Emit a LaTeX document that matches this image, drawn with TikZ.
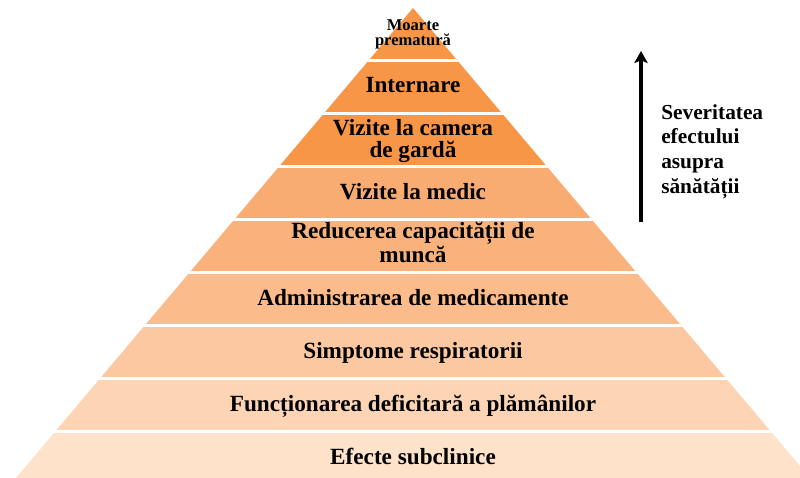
\documentclass[tikz,border=0pt]{standalone}
\usepackage{fontspec}
\setmainfont{Liberation Serif}
\usetikzlibrary{calc,arrows.meta}

\definecolor{lvlA}{HTML}{F79646}
\definecolor{lvlB}{HTML}{F9AC72}
\definecolor{lvlC}{HTML}{FAB27C}
\definecolor{lvlD}{HTML}{FBBB8B}
\definecolor{lvlE}{HTML}{FCC8A2}
\definecolor{lvlF}{HTML}{FDD5B5}
\definecolor{lvlG}{HTML}{FEE3CA}

\tikzset{
  layer/.style={font=\bfseries\fontsize{17.4}{16.5}\selectfont, align=center, anchor=base, inner sep=0pt},
  toplayer/.style={layer, font=\bfseries\fontsize{12.4}{12}\selectfont},
  sidetext/.style={font=\bfseries\fontsize{16}{18.5}\selectfont, align=left, anchor=base west, inner sep=0pt},
  gap/.style={white, line width=2.6pt},
  sevarrow/.style={line width=3pt, -{Stealth[length=9pt,width=10pt,inset=2pt]}}
}

\begin{document}
\begin{tikzpicture}[x=0.75pt,y=-0.75pt]
  \useasboundingbox (0,0) rectangle (800,478);
  \coordinate (apex) at (413,8);
  \coordinate (baseL) at ($(apex) + (-403, 477)$);
  \coordinate (baseR) at ($(apex) + (403, 477)$);

  % pyramid layers
  \begin{scope}
    \clip (apex) -- (baseL) -- (baseR) -- cycle;
    \foreach \c [count=\i from 0] in {lvlA,lvlA,lvlA,lvlB,lvlC,lvlD,lvlE,lvlF,lvlG}
      \fill[\c] ($(apex) + (-410, {53*\i-0.5})$) rectangle ($(apex) + (410, {53*\i+52.5})$);
    \foreach \k in {1,...,8}
      \draw[gap] ($(apex) + (-410, {53*\k-0.5})$) -- ++(820,0);
  \end{scope}

  \node[toplayer] at ($(apex) + (0, 38)$) (moarte) {Moarte\\prematură};
  \node[layer] at ($(apex) + (0, 85)$) (internare) {Internare};
  \node[layer] at ($(apex) + (0, 149)$) (urgenta) {Vizite la camera\\de gardă};
  \node[layer] at ($(apex) + (0, 191)$) (medic) {Vizite la medic};
  \node[layer] at ($(apex) + (0, 254)$) (munca) {Reducerea capacității de\\muncă};
  \node[layer] at ($(apex) + (0, 297)$) (medicamente) {Administrarea de medicamente};
  \node[layer] at ($(apex) + (0, 350)$) (simptome) {Simptome respiratorii};
  \node[layer] at ($(apex) + (0, 403)$) (plamani) {Funcționarea deficitară a plămânilor};
  \node[layer] at ($(apex) + (0, 456)$) (subclinic) {Efecte subclinice};

  % severity arrow
  \coordinate (sevS) at ($(apex) + (228, 214)$);
  \coordinate (sevE) at ($(apex) + (228, 43)$);
  \draw[sevarrow] (sevS) -- (sevE);
  \node[sidetext] at ($(apex) + (248, 185)$) (severitate) {Severitatea\\efectului\\asupra\\sănătății};
\end{tikzpicture}
\end{document}
